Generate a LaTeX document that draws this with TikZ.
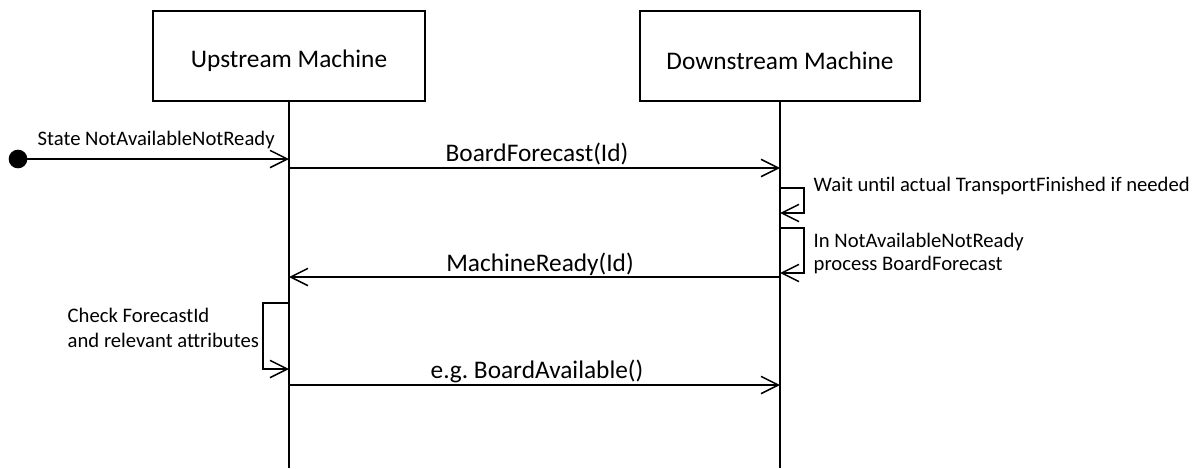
\documentclass[tikz,border=0pt]{standalone}
\usepackage{fontspec}
\setmainfont{Carlito}
\usetikzlibrary{arrows.meta}
\frenchspacing
\newcommand\msgfont{\fontsize{19pt}{23pt}\selectfont}
\newcommand\notefont{\fontsize{15.5pt}{18pt}\selectfont}
\newcommand\boxlbl[1]{\raisebox{-3.75pt}[\height][\depth]{#1}}
\begin{document}
\begin{tikzpicture}[x=0.75pt,y=-0.75pt,line width=1.1pt,
  msg/.style={-{Straight Barb[length=13pt,width=13pt,line width=1.1pt]}},
  box/.style={draw,line width=1.1pt,inner sep=0pt,minimum height=67.5pt,font=\msgfont},
  lbl/.style={inner sep=0pt,anchor=base,font=\msgfont},
  note/.style={inner sep=0pt,anchor=base west,font=\notefont}]
\useasboundingbox (0,0) rectangle (1195,468);
% lifeline heads
\node[box,minimum width=204pt] (up) at (289,56) {\boxlbl{Upstream Machine}};
\node[box,minimum width=210pt] (down) at (780,56) {\boxlbl{Downstream Machine}};
% lifeline ends
\coordinate (upend) at (289,468);
\coordinate (downend) at (780,468);
\draw (up.south) -- (upend);
\draw (down.south) -- (downend);
% points on lifelines
\coordinate (u0) at (289,159);
\coordinate (u1) at (289,168);
\coordinate (d1) at (780,168);
\coordinate (d2a) at (780,188);
\coordinate (d2b) at (780,213);
\coordinate (d3a) at (780,228);
\coordinate (d3b) at (780,273);
\coordinate (d4) at (780,277);
\coordinate (u4) at (289,277);
\coordinate (u5a) at (289,303);
\coordinate (u5b) at (289,369);
\coordinate (u6) at (289,385);
\coordinate (d6) at (780,385);
% initial state
\node[circle,fill,inner sep=0pt,minimum size=14pt] (start) at (18,159) {};
\draw[msg] (start.center) -- (u0);
\node[note] (stlbl) at (37,145) {State NotAvailableNotReady};
% BoardForecast
\draw[msg] (u1) -- (d1);
\node[lbl] (bf) at (537,161) {BoardForecast(Id)};
% self message 1
\draw[msg] (d2a) -- ++(24,0) |- (d2b);
\node[note] (wait) at (813,191) {Wait until actual TransportFinished if needed};
% self message 2
\draw[msg] (d3a) -- ++(24,0) |- (d3b);
\node[note] (in1) at (813,247) {In NotAvailableNotReady};
\node[note] (in2) at (813,270) {process BoardForecast};
% MachineReady
\draw[msg] (d4) -- (u4);
\node[lbl] (mr) at (540,271) {MachineReady(Id)};
% self message on upstream
\draw[msg] (u5a) -- ++(-26,0) |- (u5b);
\node[note] (chk1) at (67,322) {Check ForecastId};
\node[note] (chk2) at (67,347) {and relevant attributes};
% BoardAvailable
\draw[msg] (u6) -- (d6);
\node[lbl] (ba) at (537,378) {e.g. BoardAvailable()};
\end{tikzpicture}
\end{document}
